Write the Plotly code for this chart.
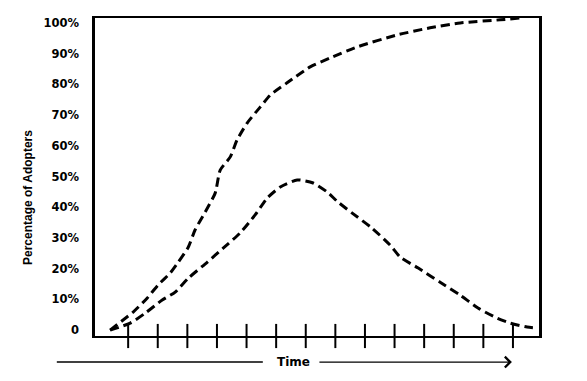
import plotly.graph_objects as go

# Data (time in tick units; 1..14 are the tick marks)
time_ticks = list(range(1, 15))

cum_time = [0.39, 0.83, 1.17, 1.64, 2.01, 2.42, 2.69, 3.03, 3.26, 3.60, 3.94, 4.11, 4.45,
            4.68, 5.02, 5.46, 5.80, 6.37, 7.15, 7.82, 8.74, 10.09, 11.20, 12.22, 13.57, 14.24]
cum_pct = [0, 3.3, 5.9, 10.4, 14.7, 18.6, 22.1, 27.0, 32.6, 38.4, 44.6, 52.1, 56.4,
           61.9, 67.4, 72.6, 76.5, 80.5, 85.7, 88.6, 92.2, 96.1, 98.4, 100.0, 101.0, 101.6]

new_time = [0.39, 1.07, 1.57, 2.15, 2.59, 3.03, 3.67, 4.21, 4.78, 5.29, 5.70, 6.14, 6.71,
            7.25, 7.72, 8.09, 8.57, 9.24, 9.85, 10.19, 10.80, 11.54, 12.22, 12.82, 13.47,
            13.91, 14.48, 14.82]
new_pct = [0, 2.3, 5.5, 9.8, 12.4, 16.9, 22.1, 26.7, 31.6, 37.5, 43.0, 46.6, 48.9,
           47.9, 45.0, 41.7, 38.1, 33.2, 27.7, 23.8, 20.2, 15.6, 11.4, 7.2, 3.9,
           2.3, 1.0, 0.7]

y_tickvals = [0, 10, 20, 30, 40, 50, 60, 70, 80, 90, 100]
y_ticktext = ["0", "10%", "20%", "30%", "40%", "50%", "60%", "70%", "80%", "90%", "100%"]

fig = go.Figure()
line_style = dict(color="black", width=3, dash="9px,5px", shape="spline", smoothing=0.6)
fig.add_trace(go.Scatter(x=cum_time, y=cum_pct, mode="lines", line=line_style,
                         showlegend=False, hoverinfo="skip"))
fig.add_trace(go.Scatter(x=new_time, y=new_pct, mode="lines", line=line_style,
                         showlegend=False, hoverinfo="skip"))

# crossing tick marks on the time axis
for t in time_ticks:
    fig.add_shape(type="line", xref="x", yref="paper", x0=t, x1=t, y0=-0.038, y1=0.038,
                  line=dict(color="black", width=2))

# time arrow below the axis
fig.add_shape(type="line", xref="paper", yref="paper", x0=-0.086, x1=0.378,
              y0=-0.082, y1=-0.082, line=dict(color="black", width=1.5))
fig.add_annotation(xref="paper", yref="paper", x=0.939, y=-0.082, ax=-194, ay=0,
                   text="", showarrow=True, arrowhead=4, arrowsize=1.6, arrowwidth=1.3,
                   arrowcolor="black")
fig.add_annotation(xref="paper", yref="paper", x=0.448, y=-0.082, text="Time",
                   showarrow=False, xanchor="center", yanchor="middle",
                   font=dict(family="DejaVu Sans", size=12, color="black", weight="bold"))

# y-axis title
fig.add_annotation(xref="paper", yref="paper", x=-0.151, y=0.437,
                   text="Percentage of Adopters", textangle=-90, showarrow=False,
                   xanchor="center", yanchor="middle",
                   font=dict(family="Liberation Sans", size=12, color="black", weight="bold"))

# the page body adds an 8px margin, so the figure is sized to fit inside the window
fig.update_layout(
    width=579, height=373,
    margin=dict(l=87, r=48, t=10, b=45),
    paper_bgcolor="white", plot_bgcolor="white",
    xaxis=dict(range=[-0.12, 14.88], showgrid=False, zeroline=False, showticklabels=False,
               ticks="", showline=True, linecolor="black", linewidth=2, mirror=True,
               automargin=False),
    yaxis=dict(range=[-1.9, 101.6], showgrid=False, zeroline=False,
               tickmode="array", tickvals=y_tickvals, ticktext=y_ticktext,
               ticks="", ticklabelstandoff=11, automargin=False,
               tickfont=dict(family="DejaVu Sans", size=11.5, color="black", weight="bold"),
               showline=True, linecolor="black", linewidth=2.5, mirror=True),
)

fig.write_html("out.html")
